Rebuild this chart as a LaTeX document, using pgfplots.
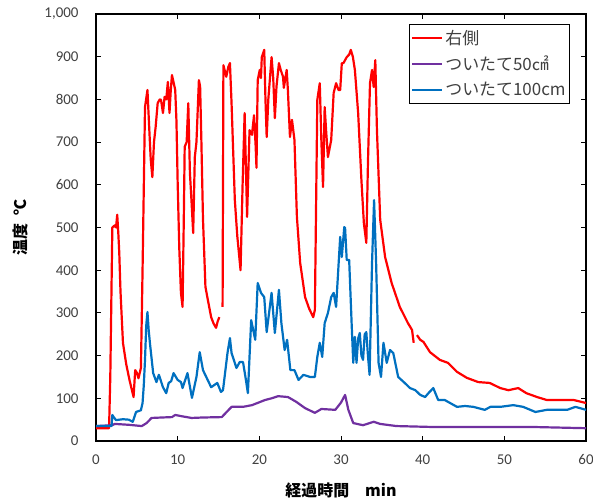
\documentclass[border=0pt]{standalone}
\usepackage{fontspec}
\setmainfont{Carlito}
\newfontfamily\cjk{Noto Sans CJK JP}
\usepackage{pgfplots}
\pgfplotsset{compat=1.18}
\definecolor{xred}{RGB}{255,0,0}
\definecolor{xpurple}{RGB}{112,48,160}
\definecolor{xblue}{RGB}{0,112,192}
\definecolor{txt}{RGB}{64,64,64}
\begin{document}
\begin{tikzpicture}
\begin{axis}[
 scale only axis, width=490bp, height=427bp,
 xmin=0, xmax=60, ymin=0, ymax=1000,
 xtick={0,10,...,60}, ytick={0,100,...,1000},
 tick align=inside, major tick length=5bp,
 axis line style={line width=1.2bp}, tick style={line width=1bp, black},
 /pgf/number format/assume math mode=true,
 yticklabel style={/pgf/number format/1000 sep={,}, xshift=-14bp},
 xticklabel style={yshift=-10bp},
 ticklabel style={font=\fontsize{15}{18}\selectfont, text=txt},
 xlabel={\cjk\bfseries 経過時間\quad min},
 ylabel={\cjk\bfseries 温度\ \ ℃},
 xlabel style={font=\fontsize{16}{19}\selectfont, at={([yshift=-49bp]axis description cs:0.5,0)}, anchor=center},
 ylabel style={font=\fontsize{16}{19}\selectfont, at={([xshift=-76bp]axis description cs:0,0.5)}, anchor=center},
 unbounded coords=jump,
 legend style={at={([xshift=-16bp,yshift=-10bp]axis description cs:1,1)}, anchor=north east, draw=black, line width=0.8bp, font=\cjk\fontsize{17}{20}\selectfont, text=txt, cells={anchor=west}, inner xsep=2bp, inner ysep=4bp, row sep=6bp},
 legend image code/.code={\draw[#1, line width=2.2bp] (0bp,0bp) -- (30bp,0bp);},
 every axis plot/.append style={line width=2.2bp, line join=round},
]
\addplot[xred] coordinates {(0,30) (1.6,30) (1.75,150) (2.0,500) (2.3,505) (2.45,500) (2.6,530) (2.75,480) (2.85,440) (3.0,350) (3.3,230) (3.7,180) (4.1,143) (4.6,103) (4.8,166) (5.0,160) (5.2,147) (5.5,171) (5.7,400) (6.0,782) (6.3,822) (6.5,740) (6.7,660) (6.9,618) (7.1,700) (7.3,735) (7.55,791) (7.8,800) (7.96,799) (8.2,768) (8.4,806) (8.6,800) (8.8,841) (9.0,768) (9.15,820) (9.3,857) (9.5,840) (9.7,822) (9.85,750) (10.0,604) (10.2,450) (10.4,347) (10.6,314) (10.75,520) (10.86,689) (11.1,700) (11.3,791) (11.5,628) (11.7,560) (11.9,487) (12.1,665) (12.3,700) (12.6,845) (12.75,830) (12.9,705) (13.1,520) (13.4,361) (13.7,330) (14.1,290) (14.4,275) (14.7,265) (14.9,280) (15.1,290) (15.3,nan) (15.5,314) (15.6,880) (15.95,853) (16.2,876) (16.4,885) (16.6,790) (17.0,564) (17.3,480) (17.7,400) (17.95,600) (18.2,768) (18.5,525) (18.8,728) (19.1,717) (19.35,763) (19.55,690) (19.65,640) (19.8,845) (20.05,869) (20.2,850) (20.3,899) (20.6,916) (20.75,800) (20.9,712) (21.1,800) (21.5,899) (21.7,850) (21.9,756) (22.1,830) (22.4,885) (22.6,870) (22.9,853) (23.0,827) (23.35,869) (23.5,820) (23.75,712) (24.0,752) (24.3,705) (24.6,525) (25.0,417) (25.6,337) (26.1,310) (26.6,290) (26.8,307) (27.1,799) (27.4,838) (27.6,700) (27.8,595) (28.0,782) (28.2,720) (28.4,665) (28.8,705) (29.1,815) (29.4,838) (29.7,822) (29.9,822) (30.1,885) (30.3,885) (30.7,899) (31.0,905) (31.2,916) (31.45,900) (31.7,869) (32.1,768) (32.5,611) (32.8,510) (33.1,464) (33.3,651) (33.55,838) (33.8,869) (34.0,829) (34.2,892) (34.4,728) (34.8,518) (35.4,431) (36.2,370) (37.2,314) (38.2,276) (38.7,260) (38.9,230) (39.1,nan) (39.3,248) (39.7,237) (40.1,232) (40.9,208) (42.1,190) (43.1,183) (44.2,162) (45.4,148) (46.8,138) (48.2,136) (49.5,124) (50.5,119) (51.7,124) (52.7,112) (54.0,103) (55.2,96) (56.6,96) (58.5,96) (60,89)};
\addlegendentry{右側}
\addplot[xpurple] coordinates {(0,35) (2.0,37) (2.3,40) (4,38) (5.6,35) (6.2,42) (6.8,54) (8,55) (9.3,56) (9.7,61) (10.5,58) (11.7,54) (13,55) (15.4,56) (16.0,68) (16.6,80) (18,80) (19.1,84) (20.7,96) (21.5,100) (22.3,105) (23.5,103) (24.5,92) (25.6,77) (26.8,66) (27.6,75) (29.3,73) (30.0,90) (30.5,108) (30.9,73) (31.5,42) (32.7,37) (34.0,45) (34.8,40) (36.8,35) (40.9,33) (47.4,33) (53.1,33) (60,30)};
\addlegendentry{ついたて50㎠}
\addplot[xblue] coordinates {(0,35) (1.9,35) (2.0,61) (2.2,55) (2.45,49) (3.3,51) (4.0,50) (4.5,45) (4.9,68) (5.5,72) (5.7,89) (5.85,130) (6.0,190) (6.15,270) (6.3,302) (6.45,260) (6.6,230) (7.0,159) (7.4,138) (7.7,155) (8.2,126) (8.6,112) (8.9,136) (9.2,140) (9.5,159) (10.0,143) (10.4,138) (10.6,124) (11.2,159) (11.75,101) (12.3,150) (12.7,208) (13.1,166) (13.5,150) (14.1,126) (14.85,136) (15.3,115) (15.55,119) (16.1,206) (16.4,241) (16.6,206) (17.2,171) (17.6,185) (18.0,185) (18.3,150) (18.6,112) (19.0,283) (19.5,237) (19.8,370) (20.2,347) (20.6,337) (20.9,255) (21.5,347) (21.9,253) (22.4,354) (22.7,276) (23.1,213) (23.4,237) (23.8,166) (24.3,166) (24.8,143) (25.4,155) (26.2,150) (26.8,150) (27.1,197) (27.4,230) (27.7,197) (28.0,276) (28.4,300) (28.8,337) (29.1,347) (29.4,314) (29.6,380) (29.9,478) (30.1,431) (30.4,501) (30.5,499) (30.7,424) (31.0,424) (31.3,276) (31.5,183) (31.7,244) (31.9,183) (32.1,240) (32.3,253) (32.5,200) (32.7,190) (32.9,250) (33.1,255) (33.3,200) (33.5,155) (33.8,417) (34.05,564) (34.3,417) (34.6,183) (34.9,150) (35.2,230) (35.6,183) (36.0,213) (36.4,206) (37.0,150) (37.8,136) (38.45,124) (39.1,119) (39.7,108) (40.3,103) (40.7,112) (41.3,124) (41.9,96) (42.7,96) (44.2,80) (45.2,82) (46.2,80) (47.6,73) (48.3,80) (49.5,80) (51.1,84) (52.3,80) (53.8,68) (55.2,73) (56.4,73) (57.7,73) (58.7,80) (60,73)};
\addlegendentry{ついたて100cm}
\end{axis}
\path (current axis.south west) ++(-96bp,-62bp) coordinate (bbA);
\path (current axis.north east) ++(7bp,14bp) coordinate (bbB);
\pgfresetboundingbox
\path[use as bounding box] (bbA) rectangle (bbB);
\end{tikzpicture}
\end{document}
